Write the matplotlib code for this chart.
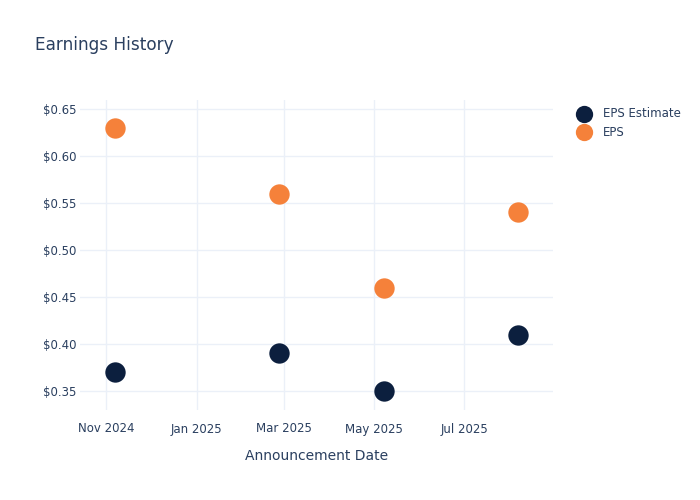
import matplotlib
matplotlib.use("Agg")
import matplotlib.pyplot as plt
from matplotlib.ticker import FuncFormatter
import datetime as dt

plt.rcParams['font.family'] = ['DejaVu Sans']

dates = ["2024-11-07", "2025-02-26", "2025-05-08", "2025-08-06"]
eps_estimate = [0.37, 0.39, 0.35, 0.41]
eps_actual = [0.63, 0.56, 0.46, 0.54]
x_ticks = ["2024-11-01", "2025-01-01", "2025-03-01", "2025-05-01", "2025-07-01"]
x_tick_labels = ["Nov 2024", "Jan 2025", "Mar 2025", "May 2025", "Jul 2025"]
y_ticks = [0.35, 0.40, 0.45, 0.50, 0.55, 0.60, 0.65]

to_d = lambda s: dt.datetime.strptime(s, "%Y-%m-%d")
xd = [to_d(s) for s in dates]

text_color = "#2a3f5f"
grid_color = "#ebf0f8"
navy = "#0c1f3e"
orange = "#f5813a"

fig = plt.figure(figsize=(7, 5), dpi=100)
ax = fig.add_axes([0.114, 0.18, 0.676, 0.62])

ax.scatter(xd, eps_estimate, s=215, color=navy, label="EPS Estimate", zorder=3, linewidths=0)
ax.scatter(xd, eps_actual, s=215, color=orange, label="EPS", zorder=3, linewidths=0)

ax.set_xlim(to_d("2024-10-14"), to_d("2025-08-30"))
ax.set_ylim(0.3298, 0.6596)
ax.set_xticks([to_d(s) for s in x_ticks])
ax.set_xticklabels(x_tick_labels)
ax.set_yticks(y_ticks)
ax.yaxis.set_major_formatter(FuncFormatter(lambda v, p: f"${v:.2f}"))

ax.grid(True, color=grid_color, linewidth=1, zorder=0)
for sp in ax.spines.values():
    sp.set_visible(False)
ax.tick_params(axis='both', length=0, colors=text_color, labelsize=8.5)
ax.tick_params(axis='x', pad=9)
ax.tick_params(axis='y', pad=2.2)

ax.set_xlabel("Announcement Date", color=text_color, fontsize=10, labelpad=10)
fig.text(0.05, 0.911, "Earnings History", color=text_color, fontsize=12.2, ha='left', va='center')

leg = ax.legend(loc='upper left', bbox_to_anchor=(1.03, 0.992), frameon=False,
                fontsize=8.5, labelcolor=text_color, handletextpad=0.6,
                labelspacing=0.45, markerscale=0.85, borderaxespad=0.0)

fig.savefig("out.png", dpi=100, facecolor="white")
